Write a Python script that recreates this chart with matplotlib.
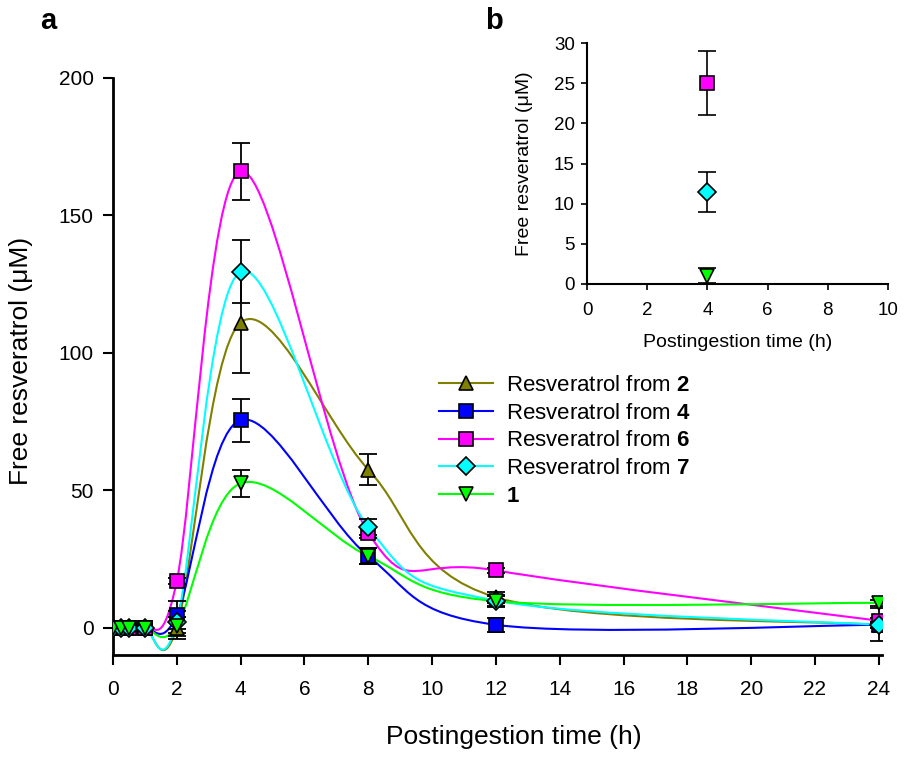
import numpy as np
import matplotlib
matplotlib.use('Agg')
import matplotlib.pyplot as plt
from matplotlib.path import Path
from matplotlib.patches import PathPatch
from matplotlib.lines import Line2D

plt.rcParams['font.family'] = ['Liberation Sans', 'DejaVu Sans']
plt.rcParams['mathtext.fontset'] = 'custom'
plt.rcParams['mathtext.bf'] = 'Liberation Sans:bold'

# postingestion times (h)
times = [0, 0.25, 0.5, 1, 2, 4, 8, 12, 24]

# free resveratrol (uM) and error bars for each series
res2 = [0, 0, 0, 0, 0, 111, 57.5, 11, 1]
err2 = [0, 0, 0, 0, 4, 18.5, 5.8, 2, 1]
res4 = [0, 0, 0, 0, 4.5, 75.5, 26, 1, 1]
err4 = [0, 0, 0, 0, 5, 7.8, 3, 2.5, 1]
res6 = [0, 0, 0, 0, 17, 166, 34.5, 20.8, 2.5]
err6 = [0, 0, 0, 0, 1, 10.5, 2, 1, 1]
res7 = [0, 0, 0, 0, 2, 129.5, 36.5, 9.8, 1]
err7 = [0, 0, 0, 0, 4, 11.4, 3, 2, 6]
res1 = [0, 0, 0, 0, 0.5, 52.5, 26, 9.6, 9]
err1 = [0, 0, 0, 0, 3.5, 5, 3, 2, 1]

# inset b: values at 4 h
inset_t = [4]
inset6 = [25]
inset6_err = [4]
inset7 = [11.5]
inset7_err = [2.5]
inset1 = [1]
inset1_err = [0.9]

series = [
    (res2, err2, '#808000', '^', 'Resveratrol from $\\mathbf{2}$'),
    (res4, err4, '#0000FF', 's', 'Resveratrol from $\\mathbf{4}$'),
    (res6, err6, '#FF00FF', 's', 'Resveratrol from $\\mathbf{6}$'),
    (res7, err7, '#00FFFF', 'D', 'Resveratrol from $\\mathbf{7}$'),
    (res1, err1, '#00FF00', 'v', '$\\mathbf{1}$'),
]


def smooth_path(x, y):
    # Bezier smoothing similar to the spreadsheet "smoothed line"
    pts = np.column_stack([x, y]).astype(float)
    n = len(pts)
    verts = [pts[0]]
    codes = [Path.MOVETO]
    for i in range(n - 1):
        p0 = pts[i - 1] if i > 0 else pts[i]
        p1 = pts[i]
        p2 = pts[i + 1]
        p3 = pts[i + 2] if i + 2 < n else pts[i + 1]
        c1 = p1 + (p2 - p0) / 6.0
        c2 = p2 - (p3 - p1) / 6.0
        verts += [c1, c2, p2]
        codes += [Path.CURVE4] * 3
    return Path(verts, codes)


fig = plt.figure(figsize=(9.13, 7.57), dpi=100)
ax = fig.add_axes([0.1238, 0.1347, 0.8422, 0.7623])

handles = []
for vals, errs, col, mk, lab in series:
    ax.add_patch(PathPatch(smooth_path(times, vals), fill=False, edgecolor=col,
                           lw=1.5, zorder=2))
    ax.errorbar(times, vals, yerr=errs, fmt='none', ecolor='black', elinewidth=1.3,
                capsize=6.5, capthick=1.3, zorder=3)
    ms = 9.5 if mk == 'D' else 10.5
    ax.plot(times, vals, linestyle='none', marker=mk, markersize=ms,
            markerfacecolor=col, markeredgecolor='black', markeredgewidth=1.2, zorder=4)
    handles.append(Line2D([], [], color=col, lw=1.5, marker=mk, markersize=ms,
                          markerfacecolor=col, markeredgecolor='black',
                          markeredgewidth=1.2, label=lab))

ax.set_xlim(0, 24.1)
ax.set_ylim(-10, 200)
ax.set_xticks(range(0, 25, 2))
ax.set_yticks([0, 50, 100, 150, 200])
for s in ['top', 'right']:
    ax.spines[s].set_visible(False)
for s in ['left', 'bottom']:
    ax.spines[s].set_linewidth(2)
ax.tick_params(axis='both', labelsize=15, width=1.5, length=7, direction='out')
ax.tick_params(axis='x', pad=11)
ax.tick_params(axis='y', pad=7)
ax.set_xlabel('Postingestion time (h)', fontsize=19)
ax.set_ylabel('Free resveratrol (\u03bcM)', fontsize=19)
ax.xaxis.set_label_coords(0.521, -0.121)
ax.yaxis.set_label_coords(-0.104, 0.51)

ax.legend(handles=handles, loc='center left', bbox_to_anchor=(0.413, 0.371), frameon=False,
          fontsize=16, handlelength=2.4, handletextpad=0.6, labelspacing=0.3,
          borderaxespad=0)

fig.text(0.044, 0.972, 'a', fontsize=21, fontweight='bold', va='center')
fig.text(0.531, 0.972, 'b', fontsize=21, fontweight='bold', va='center')

# inset b
axb = fig.add_axes([0.6433, 0.6252, 0.329, 0.3176])
for vals, errs, col, mk in [(inset6, inset6_err, '#FF00FF', 's'),
                            (inset7, inset7_err, '#00FFFF', 'D'),
                            (inset1, inset1_err, '#00FF00', 'v')]:
    axb.errorbar(inset_t, vals, yerr=errs, fmt='none', ecolor='black', elinewidth=1.2,
                 capsize=6.5, capthick=1.2, zorder=3)
    axb.plot(inset_t, vals, linestyle='none', marker=mk, markersize=9.5 if mk == 'D' else 10,
             markerfacecolor=col, markeredgecolor='black', markeredgewidth=1.2, zorder=4)
axb.set_xlim(0, 10)
axb.set_ylim(0, 30)
axb.set_xticks(range(0, 11, 2))
axb.set_yticks(range(0, 31, 5))
for s in ['top', 'right']:
    axb.spines[s].set_visible(False)
for s in ['left', 'bottom']:
    axb.spines[s].set_linewidth(1.5)
axb.tick_params(axis='both', labelsize=13.5, width=1.2, length=4, direction='out')
axb.tick_params(axis='x', pad=9)
axb.tick_params(axis='y', pad=5)
axb.set_xlabel('Postingestion time (h)', fontsize=14, labelpad=11)
axb.set_ylabel('Free resveratrol (\u03bcM)', fontsize=14, labelpad=15)

fig.savefig('out.png', dpi=100)
